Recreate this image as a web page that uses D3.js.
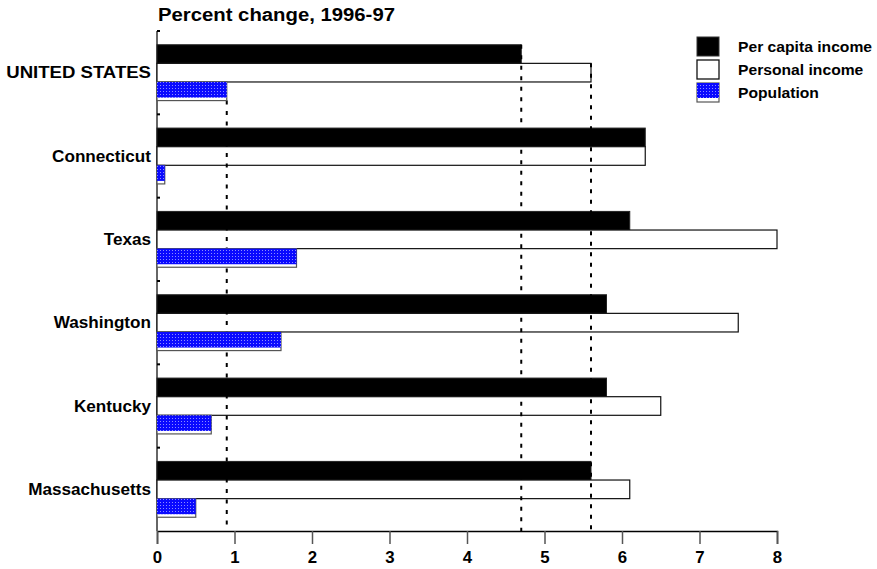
<!DOCTYPE html>
<html><head><meta charset="utf-8">
<script src="https://cdn.jsdelivr.net/npm/d3@7"></script>
<style>
html,body{margin:0;padding:0;background:#fff;}
text{font-family:"Liberation Sans",Arial,sans-serif;font-weight:bold;fill:#000;}
</style></head>
<body>
<svg id="chart" width="877" height="569"></svg>
<script>
const categories = ["UNITED STATES","Connecticut","Texas","Washington","Kentucky","Massachusetts"];
const seriesNames = ["Per capita income","Personal income","Population"];
const perCapita = [4.7, 6.3, 6.1, 5.8, 5.8, 5.6];
const personal  = [5.6, 6.3, 8.0, 7.5, 6.5, 6.1];
const population= [0.9, 0.1, 1.8, 1.6, 0.7, 0.5];
const xTicks = [0,1,2,3,4,5,6,7,8];
const title = "Percent change, 1996-97";

const svg = d3.select("#chart");
const defs = svg.append("defs");
const pat = defs.append("pattern").attr("id","dots").attr("patternUnits","userSpaceOnUse")
  .attr("width",3).attr("height",3);
pat.append("rect").attr("width",3).attr("height",3).attr("fill","#0a0aff");
pat.append("rect").attr("x",1).attr("y",1).attr("width",1).attr("height",1).attr("fill","#8c8cff");

function stretch(sel,k){
  sel.each(function(d){
    const kk = (typeof k === "function") ? k(d) : k;
    const w=this.getComputedTextLength();
    d3.select(this).attr("textLength",w*kk).attr("lengthAdjust","spacingAndGlyphs");
  });
}

const x = d3.scaleLinear().domain([0,8]).range([157,777]);
const y = d3.scaleBand().domain(categories).range([31,531]).paddingInner(0.33).paddingOuter(0.165);
const ys = d3.scaleBand().domain(seriesNames).range([0,y.bandwidth()]);

// axes
const gx = svg.append("g").attr("transform","translate(0,531)")
  .call(d3.axisBottom(x).tickValues(xTicks).tickSize(13).tickPadding(8).tickFormat(d3.format("d")));
gx.select(".domain").attr("stroke","#000").attr("stroke-width",1.5);
gx.selectAll(".tick line").attr("stroke","#555").attr("stroke-width",1.5);
gx.selectAll(".tick text").attr("font-size",16).attr("font-family",null).call(stretch,1.05);

// left axis line
svg.append("line").attr("x1",157).attr("x2",157).attr("y1",31).attr("y2",531)
  .attr("stroke","#666").attr("stroke-width",2);
const bounds = [31].concat(categories.map(c=>y(c)+y.bandwidth()+y.step()*y.paddingInner()/2).slice(0,-1));
svg.selectAll(".ltick").data(bounds).enter().append("line")
  .attr("x1",157).attr("x2",160).attr("y1",d=>d).attr("y2",d=>d).attr("stroke","#000").attr("stroke-width",2);

// category labels
svg.selectAll(".cat").data(categories).enter().append("text")
  .attr("x",151).attr("y",d=>y(d)+y.bandwidth()/2).attr("dy","0.36em")
  .attr("text-anchor","end").attr("font-size",16).text(d=>d)
  .call(stretch, d => d === categories[0] ? 1.16 : 1.07);

// bars
const bh = ys.bandwidth();
categories.forEach((c,i)=>{
  svg.append("rect").attr("x",x(0)).attr("y",y(c)+ys(seriesNames[0]))
    .attr("width",x(perCapita[i])-x(0)).attr("height",bh).attr("fill","#000").attr("stroke","#222");
  svg.append("rect").attr("x",x(0)).attr("y",y(c)+ys(seriesNames[1]))
    .attr("width",x(personal[i])-x(0)).attr("height",bh).attr("fill","#fff").attr("stroke","#111").attr("stroke-width",1.2);
});
// reference dashed lines from US values
const us = categories[0];
const refs = [{v:perCapita[0],s:0},{v:personal[0],s:1},{v:population[0],s:2}];
svg.selectAll(".ref").data(refs).enter().append("line")
  .attr("x1",d=>x(d.v)).attr("x2",d=>x(d.v))
  .attr("y1",d=>y(us)+ys(seriesNames[d.s])+ (d.s===2?bh:0)).attr("y2",531)
  .attr("stroke","#000").attr("stroke-width",2).attr("stroke-dasharray","4,6.5");
categories.forEach((c,i)=>{
  const yy=y(c)+ys(seriesNames[2]);
  svg.append("rect").attr("x",x(0)).attr("y",yy)
    .attr("width",x(population[i])-x(0)).attr("height",bh).attr("fill","#fff").attr("stroke","#555").attr("stroke-width",1.2);
  svg.append("rect").attr("x",x(0)).attr("y",yy)
    .attr("width",x(population[i])-x(0)).attr("height",bh-3).attr("fill","url(#dots)");
});

// title
svg.append("text").attr("x",158).attr("y",21).attr("font-size",17.5).text(title).call(stretch,1.16);

// legend
const lg = svg.append("g");
seriesNames.forEach((s,i)=>{
  const yy = 37 + i*23;
  if(i===0) lg.append("rect").attr("x",697).attr("y",yy).attr("width",22).attr("height",19).attr("fill","#000").attr("stroke","#333");
  if(i===1) lg.append("rect").attr("x",697).attr("y",yy).attr("width",22).attr("height",19).attr("fill","#fff").attr("stroke","#111").attr("stroke-width",1.3);
  if(i===2){
    lg.append("rect").attr("x",697).attr("y",yy).attr("width",22).attr("height",19).attr("fill","#fff").attr("stroke","#555").attr("stroke-width",1.2);
    lg.append("rect").attr("x",697).attr("y",yy).attr("width",22).attr("height",15).attr("fill","url(#dots)");
  }
  lg.append("text").attr("x",738).attr("y",yy+10).attr("dy","0.36em").attr("font-size",14.5).text(s).call(stretch,1.08);
});
</script>
</body></html>
